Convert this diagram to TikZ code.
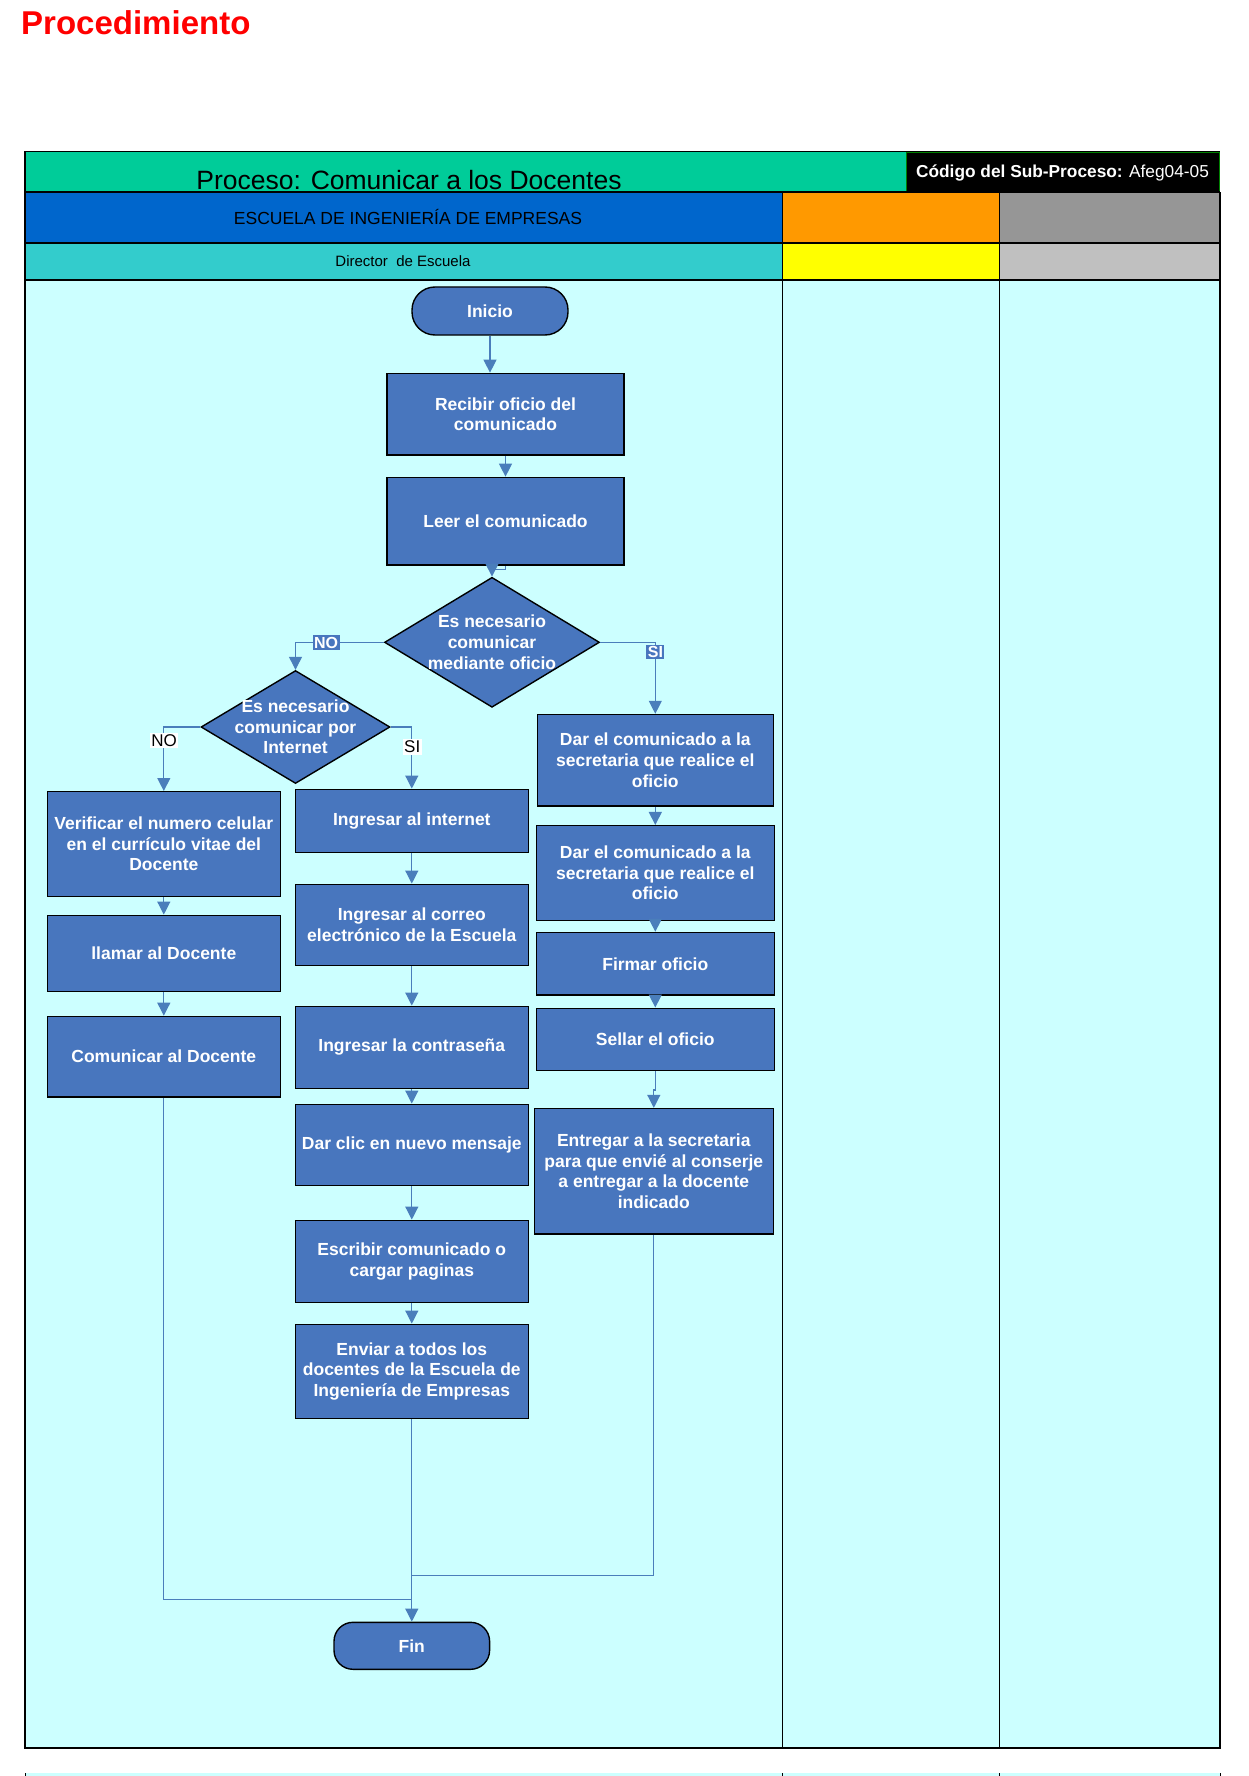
\documentclass[tikz,border=0pt]{standalone}
\usepackage{fontspec}
\setmainfont{Liberation Sans}
\usetikzlibrary{shapes.geometric,arrows.meta}

\definecolor{headgreen}{RGB}{0,204,153}
\definecolor{unitblue}{RGB}{0,102,204}
\definecolor{roleteal}{RGB}{51,204,204}
\definecolor{lanecyan}{RGB}{204,255,255}
\definecolor{laneorange}{RGB}{255,153,0}
\definecolor{lanegray}{RGB}{150,150,150}
\definecolor{lanelightgray}{RGB}{192,192,192}
\definecolor{laneyellow}{RGB}{255,255,0}
\definecolor{nodeblue}{RGB}{72,118,190}
\definecolor{linkblue}{RGB}{74,126,187}
\definecolor{codegreen}{RGB}{0,128,0}

\newcommand{\flowfont}{\fontsize{17.5}{20.7}\selectfont\bfseries}

\begin{document}
\begin{tikzpicture}[x=1pt,y=-1pt,
  proc/.style={draw=black, line width=1.4pt, fill=nodeblue, text=white,
    font=\flowfont, align=center, inner sep=0pt},
  term/.style={proc, rounded corners=23},
  decision/.style={draw=black, line width=1.4pt, fill=nodeblue, shape=diamond,
    inner sep=0pt},
  dtext/.style={text=white, font=\flowfont, align=center, inner sep=0pt},
  arr/.style={draw=linkblue, line width=1.2pt, -{Triangle[width=13pt,length=13pt]}},
  link/.style={draw=linkblue, line width=1.2pt},
  bluetag/.style={fill=nodeblue, text=white, font=\fontsize{16}{18}\selectfont\bfseries,
    inner sep=1.5pt},
  whitetag/.style={fill=white, text=black, font=\fontsize{17}{19}\selectfont,
    inner sep=1.5pt},
  frame/.style={draw=black, line width=1.5pt}
]
\useasboundingbox (0,0) rectangle (1249,1776);

% page title
\node[anchor=base west, inner sep=0pt, text=red, font=\fontsize{33}{38}\selectfont\bfseries]
  (pagetitle) at (21,34.7) {Procedimiento};

% header rows
\fill[headgreen] (25,151.5) rectangle (1220,192);
\fill[black] (906,151.5) rectangle (1220,192);
\draw[codegreen, line width=1pt] (906,152.5) rectangle (1219.5,191.5);
\fill[unitblue] (25,192) rectangle (782,243);
\fill[laneorange] (782,192) rectangle (999,243);
\fill[lanegray] (999,192) rectangle (1220,243);
\fill[roleteal] (25,243) rectangle (782,280);
\fill[laneyellow] (782,243) rectangle (999,280);
\fill[lanelightgray] (999,243) rectangle (1220,280);

% swimlane body
\fill[lanecyan] (25,280) rectangle (1220,1748);
\fill[lanecyan] (25,1773) rectangle (1220,1776);

% grid lines
\draw[frame] (25,151.5) -- (906,151.5);
\draw[frame] (25,192) -- (1220,192);
\draw[frame] (25,243) -- (1220,243);
\draw[frame] (25,280) -- (1220,280);
\draw[frame] (25,151.5) -- (25,1748) -- (1220,1748) -- (1220,192);
\draw[black, line width=1pt] (782,192) -- (782,1748);
\draw[black, line width=1pt] (999,192) -- (999,1748);
\draw[black, line width=1pt] (25,1773) -- (25,1776);
\draw[black, line width=1pt] (782,1773) -- (782,1776);
\draw[black, line width=1pt] (999,1773) -- (999,1776);
\draw[black, line width=1pt] (1220,1773) -- (1220,1776);

% header texts
\node[anchor=base, inner sep=0pt, font=\fontsize{26.5}{30}\selectfont]
  (proceso) at (409,190) {Proceso: Comunicar a los Docentes};
\node[anchor=base, inner sep=0pt, text=white, font=\fontsize{17.3}{19}\selectfont]
  (codigo) at (1062.5,178) {\textbf{Código del Sub-Proceso:} Afeg04-05};
\node[inner sep=0pt, font=\fontsize{17.5}{20}\selectfont]
  (unidad) at (408,216.5) {ESCUELA DE INGENIERÍA DE EMPRESAS};
\node[inner sep=0pt, font=\fontsize{15}{18}\selectfont]
  (rol) at (403,261.5) {Director\ \ de Escuela};

% main flow
\node[term, minimum width=156, minimum height=48] (inicio) at (490,311) {Inicio};
\node[proc, minimum width=237, minimum height=81.7] (recibir) at (505.5,414.2)
  {Recibir oficio del\\comunicado};
\node[proc, minimum width=237, minimum height=87.7] (leer) at (505.5,521.2)
  {Leer el comunicado};
\node[decision, minimum width=215, minimum height=130] (d1) at (492,642.3) {};
\node[dtext] (d1t) at (d1.center) {Es necesario\\comunicar\\mediante oficio};
\node[decision, minimum width=189, minimum height=113] (d2) at (295.5,727) {};
\node[dtext] (d2t) at (d2.center) {Es necesario\\comunicar por\\Internet};

% telephone branch
\node[proc, minimum width=233, minimum height=104.6] (verificar) at (163.8,844)
  {Verificar el numero celular\\en el currículo vitae del\\Docente};
\node[proc, minimum width=233, minimum height=76] (llamar) at (163.8,953.3)
  {llamar al Docente};
\node[proc, minimum width=233, minimum height=80.7] (comunicar) at (163.8,1056.7)
  {Comunicar al Docente};

% e-mail branch
\node[proc, minimum width=233, minimum height=63] (internet) at (411.8,820.8)
  {Ingresar al internet};
\node[proc, minimum width=233, minimum height=81] (correo) at (411.8,924.8)
  {Ingresar al correo\\electrónico de la Escuela};
\node[proc, minimum width=233, minimum height=82] (clave) at (411.8,1047.3)
  {Ingresar la contraseña};
\node[proc, minimum width=233, minimum height=81] (clic) at (411.8,1144.8)
  {Dar clic en nuevo mensaje};
\node[proc, minimum width=233, minimum height=82] (escribir) at (411.8,1261.3)
  {Escribir comunicado o\\cargar paginas};
\node[proc, minimum width=233, minimum height=94] (enviar) at (411.8,1371.3)
  {Enviar a todos los\\docentes de la Escuela de\\Ingeniería de Empresas};

% official letter branch
\node[proc, minimum width=236, minimum height=91.6] (dar1) at (655.3,760.3)
  {Dar el comunicado a la\\secretaria que realice el\\oficio};
\node[proc, minimum width=238, minimum height=94.7] (dar2) at (655.3,873)
  {Dar el comunicado a la\\secretaria que realice el\\oficio};
\node[proc, minimum width=238, minimum height=62.7] (firmar) at (655.3,963.8)
  {Firmar oficio};
\node[proc, minimum width=238, minimum height=62] (sellar) at (655.3,1039.2)
  {Sellar el oficio};
\node[proc, minimum width=239, minimum height=125.5] (entregar) at (653.8,1171.3)
  {Entregar a la secretaria\\para que envié al conserje\\a entregar a la docente\\indicado};

\node[proc, rounded corners=19, minimum width=155.6, minimum height=47] (fin) at (411.8,1645.8)
  {Fin};

% junction points of the closing connectors
\coordinate (joinleft) at (411.8,1599.3);
\coordinate (joinright) at (411.8,1575.3);

% connectors
\draw[arr] (inicio.south) -- (inicio.south |- recibir.north);
\draw[arr] (recibir.south -| leer.north) -- (leer.north);
\draw[arr] (leer.south) -- ++(0,4) -| (d1.north);
\draw[arr] (d1.west) -| (d2.north);
\draw[arr] (d1.east) -| (dar1.north);
\draw[arr] (d2.west) -| (verificar.north);
\draw[arr] (d2.east) -| (internet.north);

\draw[arr] (verificar) -- (llamar);
\draw[arr] (llamar) -- (comunicar);

\draw[arr] (internet) -- (correo);
\draw[arr] (correo) -- (clave);
\draw[arr] (clave) -- (clic);
\draw[arr] (clic) -- (escribir);
\draw[arr] (escribir) -- (enviar);

\draw[arr] (dar1) -- (dar2);
\draw[arr] (dar2) -- (firmar);
\draw[arr] (firmar) -- (sellar);
\draw[arr] (sellar.south) -- ++(0,19) -| (entregar.north);

\draw[arr] (enviar) -- (fin);
\draw[link] (comunicar.south) |- (joinleft);
\draw[link] (entregar.south) |- (joinright);

% branch labels
\node[bluetag] (no1) at (326,642.5) {NO};
\node[bluetag] (si1) at (655.4,652.2) {SI};
\node[whitetag] (no2) at (164,740.5) {NO};
\node[whitetag] (si2) at (412.2,747) {SI};

\end{tikzpicture}
\end{document}
